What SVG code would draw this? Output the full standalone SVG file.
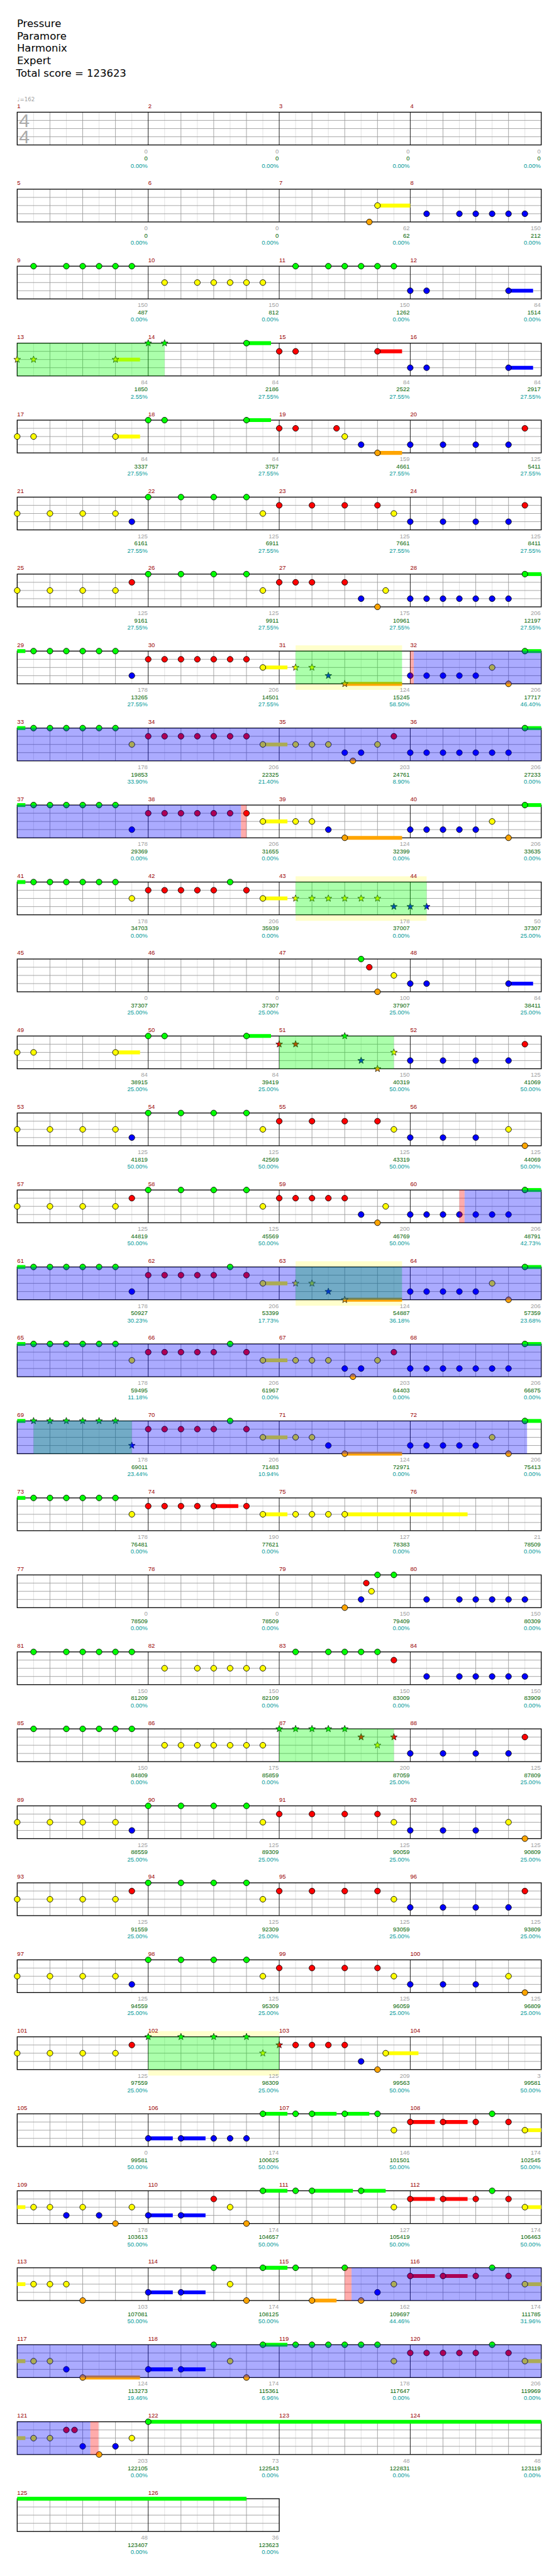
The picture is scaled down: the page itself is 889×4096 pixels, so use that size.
<svg xmlns="http://www.w3.org/2000/svg" xmlns:xlink="http://www.w3.org/1999/xlink" width="889" height="4096" viewBox="0 0 889 4096">
<defs>
<style>
text{font-family:"Liberation Sans",Arial,sans-serif}
.h{font-family:"DejaVu Sans",sans-serif;font-size:19px;fill:#000}
.t{font-family:"DejaVu Sans",sans-serif;font-size:10px;fill:#a0a0a0}
.ts{font-size:35px;fill:#aaa;text-anchor:middle}
.m{font-size:11px;fill:#900}
.a{font-size:11px;fill:#a0a0a0;text-anchor:end}
.b{font-size:11px;fill:#006400;text-anchor:end}
.c{font-size:11px;fill:#099;text-anchor:end}
.zG{stroke:#0f0;stroke-width:7;fill:none}
.zR{stroke:#f00;stroke-width:7;fill:none}
.zY{stroke:#ff0;stroke-width:7;fill:none}
.zB{stroke:#00f;stroke-width:7;fill:none}
.zO{stroke:#ffa500;stroke-width:7;fill:none}
.sp{fill:#0f0;fill-opacity:.33}
.bl{fill:#00f;fill-opacity:.33}
.pk{fill:#f00;fill-opacity:.33}
.py{fill:#ffc}
</style>
<g id="grid">
<rect width="960" height="60" fill="#fff"/>
<path d="M30 0v60M90 0v60M150 0v60M210 0v60M270 0v60M330 0v60M390 0v60M450 0v60M510 0v60M570 0v60M630 0v60M690 0v60M750 0v60M810 0v60M870 0v60M930 0v60" stroke="#ddd"/>
<path d="M60 0v60M120 0v60M180 0v60M300 0v60M360 0v60M420 0v60M540 0v60M600 0v60M660 0v60M780 0v60M840 0v60M900 0v60M0 15H960M0 30H960M0 45H960" stroke="#999"/>
<path d="M240 0v60M480 0v60M720 0v60" stroke="#000"/>
<rect width="960" height="60" fill="none" stroke="#000" stroke-width="1.5"/>
</g>
<g id="grid2">
<rect width="480" height="60" fill="#fff"/>
<path d="M30 0v60M90 0v60M150 0v60M210 0v60M270 0v60M330 0v60M390 0v60M450 0v60" stroke="#ddd"/>
<path d="M60 0v60M120 0v60M180 0v60M300 0v60M360 0v60M420 0v60M0 15H480M0 30H480M0 45H480" stroke="#999"/>
<path d="M240 0v60" stroke="#000"/>
<rect width="480" height="60" fill="none" stroke="#000" stroke-width="1.5"/>
</g>
<circle id="G" r="5.3" fill="#0f0" stroke="#000"/>
<circle id="R" cy="15" r="5.3" fill="#f00" stroke="#000"/>
<circle id="Y" cy="30" r="5.3" fill="#ff0" stroke="#000"/>
<circle id="B" cy="45" r="5.3" fill="#00f" stroke="#000"/>
<circle id="O" cy="60" r="5.3" fill="#ffa500" stroke="#000"/>
<path id="sG" d="M0-6.5L1.6-2.2 6.2-2 2.6.8 3.8 5.3 0 2.7-3.8 5.3-2.6.8-6.2-2-1.6-2.2Z" fill="#0f0" stroke="#000" stroke-width=".8"/>
<path id="sR" transform="translate(0 15)" d="M0-6.5L1.6-2.2 6.2-2 2.6.8 3.8 5.3 0 2.7-3.8 5.3-2.6.8-6.2-2-1.6-2.2Z" fill="#f00" stroke="#000" stroke-width=".8"/>
<path id="sY" transform="translate(0 30)" d="M0-6.5L1.6-2.2 6.2-2 2.6.8 3.8 5.3 0 2.7-3.8 5.3-2.6.8-6.2-2-1.6-2.2Z" fill="#ff0" stroke="#000" stroke-width=".8"/>
<path id="sB" transform="translate(0 45)" d="M0-6.5L1.6-2.2 6.2-2 2.6.8 3.8 5.3 0 2.7-3.8 5.3-2.6.8-6.2-2-1.6-2.2Z" fill="#00f" stroke="#000" stroke-width=".8"/>
<path id="sO" transform="translate(0 60)" d="M0-6.5L1.6-2.2 6.2-2 2.6.8 3.8 5.3 0 2.7-3.8 5.3-2.6.8-6.2-2-1.6-2.2Z" fill="#ffa500" stroke="#000" stroke-width=".8"/>
</defs>
<rect width="889" height="4096" fill="#fff"/>
<g transform="scale(0.86816)">
<g id="header">
<text class="h" x="31" y="49">Pressure</text>
<text class="h" x="31" y="72">Paramore</text>
<text class="h" x="31" y="95">Harmonix</text>
<text class="h" x="31" y="118">Expert</text>
<text class="h" x="29.5" y="141">Total score = 123623</text>
</g>

<g id="r1" transform="translate(31.5 205.5)">
<use href="#grid"/>
<text class="t" x="0" y="-20">♩=162</text>
<text class="ts" x="13" y="27.5">4</text><text class="ts" x="13" y="57.5">4</text>
<text class="m" x="0" y="-7.5">1</text><text class="m" x="240" y="-7.5">2</text><text class="m" x="480" y="-7.5">3</text><text class="m" x="720" y="-7.5">4</text>
<text class="a" x="239" y="75">0</text><text class="a" x="479" y="75">0</text><text class="a" x="719" y="75">0</text><text class="a" x="959" y="75">0</text>
<text class="b" x="239" y="88.5">0</text><text class="b" x="479" y="88.5">0</text><text class="b" x="719" y="88.5">0</text><text class="b" x="959" y="88.5">0</text>
<text class="c" x="239" y="101.5">0.00%</text><text class="c" x="479" y="101.5">0.00%</text><text class="c" x="719" y="101.5">0.00%</text><text class="c" x="959" y="101.5">0.00%</text>
</g>

<g id="r2" transform="translate(31.5 346.5)">
<use href="#grid"/>
<text class="m" x="0" y="-7.5">5</text><text class="m" x="240" y="-7.5">6</text><text class="m" x="480" y="-7.5">7</text><text class="m" x="720" y="-7.5">8</text>
<path class="zY" d="M660 30H720"/>
<use href="#O" x="645"/><use href="#Y" x="660"/><use href="#B" x="750"/><use href="#B" x="810"/><use href="#B" x="840"/><use href="#B" x="870"/><use href="#B" x="900"/><use href="#B" x="930"/>
<text class="a" x="239" y="75">0</text><text class="a" x="479" y="75">0</text><text class="a" x="719" y="75">62</text><text class="a" x="959" y="75">150</text>
<text class="b" x="239" y="88.5">0</text><text class="b" x="479" y="88.5">0</text><text class="b" x="719" y="88.5">62</text><text class="b" x="959" y="88.5">212</text>
<text class="c" x="239" y="101.5">0.00%</text><text class="c" x="479" y="101.5">0.00%</text><text class="c" x="719" y="101.5">0.00%</text><text class="c" x="959" y="101.5">0.00%</text>
</g>

<g id="r3" transform="translate(31.5 487.5)">
<use href="#grid"/>
<text class="m" x="0" y="-7.5">9</text><text class="m" x="240" y="-7.5">10</text><text class="m" x="480" y="-7.5">11</text><text class="m" x="720" y="-7.5">12</text>
<path class="zB" d="M900 45H945"/>
<use href="#G" x="30"/><use href="#G" x="90"/><use href="#G" x="120"/><use href="#G" x="150"/><use href="#G" x="180"/><use href="#G" x="210"/>
<use href="#Y" x="270"/><use href="#Y" x="330"/><use href="#Y" x="360"/><use href="#Y" x="390"/><use href="#Y" x="420"/><use href="#Y" x="450"/>
<use href="#G" x="510"/><use href="#G" x="570"/><use href="#G" x="600"/><use href="#G" x="630"/><use href="#G" x="660"/><use href="#G" x="690"/>
<use href="#B" x="720"/><use href="#B" x="750"/><use href="#B" x="900"/>
<text class="a" x="239" y="75">150</text><text class="a" x="479" y="75">150</text><text class="a" x="719" y="75">150</text><text class="a" x="959" y="75">84</text>
<text class="b" x="239" y="88.5">487</text><text class="b" x="479" y="88.5">812</text><text class="b" x="719" y="88.5">1262</text><text class="b" x="959" y="88.5">1514</text>
<text class="c" x="239" y="101.5">0.00%</text><text class="c" x="479" y="101.5">0.00%</text><text class="c" x="719" y="101.5">0.00%</text><text class="c" x="959" y="101.5">0.00%</text>
</g>

<g id="r4" transform="translate(31.5 628.5)">
<use href="#grid"/>
<text class="m" x="0" y="-7.5">13</text><text class="m" x="240" y="-7.5">14</text><text class="m" x="480" y="-7.5">15</text><text class="m" x="720" y="-7.5">16</text>
<path class="zY" d="M180 30H225"/><path class="zG" d="M420 0H465"/><path class="zR" d="M660 15H705"/><path class="zB" d="M900 45H945"/>
<use href="#sY" x="0"/><use href="#sY" x="30"/><use href="#sY" x="180"/><use href="#sG" x="240"/><use href="#sG" x="270"/>
<use href="#G" x="420"/><use href="#R" x="480"/><use href="#R" x="510"/><use href="#R" x="660"/><use href="#B" x="720"/><use href="#B" x="750"/><use href="#B" x="900"/>
<rect class="sp" x="0" width="270" height="60"/>
<text class="a" x="239" y="75">84</text><text class="a" x="479" y="75">84</text><text class="a" x="719" y="75">84</text><text class="a" x="959" y="75">84</text>
<text class="b" x="239" y="88.5">1850</text><text class="b" x="479" y="88.5">2186</text><text class="b" x="719" y="88.5">2522</text><text class="b" x="959" y="88.5">2917</text>
<text class="c" x="239" y="101.5">2.55%</text><text class="c" x="479" y="101.5">27.55%</text><text class="c" x="719" y="101.5">27.55%</text><text class="c" x="959" y="101.5">27.55%</text>
</g>

<g id="r5" transform="translate(31.5 769.5)">
<use href="#grid"/>
<text class="m" x="0" y="-7.5">17</text><text class="m" x="240" y="-7.5">18</text><text class="m" x="480" y="-7.5">19</text><text class="m" x="720" y="-7.5">20</text>
<path class="zY" d="M180 30H225"/><path class="zG" d="M420 0H465"/><path class="zO" d="M660 60H705"/>
<use href="#Y" x="0"/><use href="#Y" x="30"/><use href="#Y" x="180"/><use href="#G" x="240"/><use href="#G" x="270"/><use href="#G" x="420"/>
<use href="#R" x="480"/><use href="#R" x="510"/><use href="#R" x="585"/><use href="#Y" x="600"/><use href="#B" x="630"/><use href="#O" x="660"/>
<use href="#B" x="720"/><use href="#B" x="780"/><use href="#B" x="840"/><use href="#B" x="900"/><use href="#R" x="930"/>
<text class="a" x="239" y="75">84</text><text class="a" x="479" y="75">84</text><text class="a" x="719" y="75">159</text><text class="a" x="959" y="75">125</text>
<text class="b" x="239" y="88.5">3337</text><text class="b" x="479" y="88.5">3757</text><text class="b" x="719" y="88.5">4661</text><text class="b" x="959" y="88.5">5411</text>
<text class="c" x="239" y="101.5">27.55%</text><text class="c" x="479" y="101.5">27.55%</text><text class="c" x="719" y="101.5">27.55%</text><text class="c" x="959" y="101.5">27.55%</text>
</g>

<g id="r6" transform="translate(31.5 910.5)">
<use href="#grid"/>
<text class="m" x="0" y="-7.5">21</text><text class="m" x="240" y="-7.5">22</text><text class="m" x="480" y="-7.5">23</text><text class="m" x="720" y="-7.5">24</text>
<use href="#Y" x="0"/><use href="#Y" x="60"/><use href="#Y" x="120"/><use href="#Y" x="180"/><use href="#B" x="210"/>
<use href="#G" x="240"/><use href="#G" x="300"/><use href="#G" x="360"/><use href="#G" x="420"/><use href="#Y" x="450"/>
<use href="#R" x="480"/><use href="#R" x="540"/><use href="#R" x="600"/><use href="#R" x="660"/><use href="#Y" x="690"/>
<use href="#B" x="720"/><use href="#B" x="780"/><use href="#B" x="840"/><use href="#B" x="900"/><use href="#R" x="930"/>
<text class="a" x="239" y="75">125</text><text class="a" x="479" y="75">125</text><text class="a" x="719" y="75">125</text><text class="a" x="959" y="75">125</text>
<text class="b" x="239" y="88.5">6161</text><text class="b" x="479" y="88.5">6911</text><text class="b" x="719" y="88.5">7661</text><text class="b" x="959" y="88.5">8411</text>
<text class="c" x="239" y="101.5">27.55%</text><text class="c" x="479" y="101.5">27.55%</text><text class="c" x="719" y="101.5">27.55%</text><text class="c" x="959" y="101.5">27.55%</text>
</g>

<g id="r7" transform="translate(31.5 1051.5)">
<use href="#grid"/>
<text class="m" x="0" y="-7.5">25</text><text class="m" x="240" y="-7.5">26</text><text class="m" x="480" y="-7.5">27</text><text class="m" x="720" y="-7.5">28</text>
<path class="zG" d="M930 0H960"/>
<use href="#Y" x="0"/><use href="#Y" x="60"/><use href="#Y" x="120"/><use href="#Y" x="180"/><use href="#R" x="210"/>
<use href="#G" x="240"/><use href="#G" x="300"/><use href="#G" x="360"/><use href="#G" x="420"/><use href="#Y" x="450"/>
<use href="#R" x="480"/><use href="#R" x="510"/><use href="#R" x="540"/><use href="#R" x="600"/><use href="#B" x="630"/><use href="#O" x="660"/><use href="#Y" x="675"/>
<use href="#B" x="720"/><use href="#B" x="750"/><use href="#B" x="780"/><use href="#B" x="810"/><use href="#B" x="840"/><use href="#B" x="870"/><use href="#B" x="900"/><use href="#G" x="930"/>
<text class="a" x="239" y="75">125</text><text class="a" x="479" y="75">125</text><text class="a" x="719" y="75">175</text><text class="a" x="959" y="75">206</text>
<text class="b" x="239" y="88.5">9161</text><text class="b" x="479" y="88.5">9911</text><text class="b" x="719" y="88.5">10961</text><text class="b" x="959" y="88.5">12197</text>
<text class="c" x="239" y="101.5">27.55%</text><text class="c" x="479" y="101.5">27.55%</text><text class="c" x="719" y="101.5">27.55%</text><text class="c" x="959" y="101.5">27.55%</text>
</g>

<g id="r8" transform="translate(31.5 1192.5)">
<rect class="py" x="510" y="-10.5" width="195" height="81.5"/>
<use href="#grid"/>
<text class="m" x="0" y="-7.5">29</text><text class="m" x="240" y="-7.5">30</text><text class="m" x="480" y="-7.5">31</text><text class="m" x="720" y="-7.5">32</text>
<path class="zG" d="M0 0H15"/><path class="zY" d="M450 30H495"/><path class="zO" d="M600 60H705"/><path class="zG" d="M930 0H960"/>
<use href="#G" x="30"/><use href="#G" x="60"/><use href="#G" x="90"/><use href="#G" x="120"/><use href="#G" x="150"/><use href="#G" x="180"/><use href="#B" x="210"/>
<use href="#R" x="240"/><use href="#R" x="270"/><use href="#R" x="300"/><use href="#R" x="330"/><use href="#R" x="360"/><use href="#R" x="390"/><use href="#R" x="420"/><use href="#Y" x="450"/>
<use href="#sY" x="510"/><use href="#sY" x="540"/><use href="#sB" x="570"/><use href="#sO" x="600"/>
<use href="#B" x="720"/><use href="#B" x="750"/><use href="#B" x="780"/><use href="#B" x="810"/><use href="#B" x="840"/><use href="#Y" x="870"/><use href="#O" x="900"/><use href="#G" x="930"/>
<rect class="sp" x="510" width="195" height="60"/><rect class="pk" x="720" width="6.5" height="60"/><rect class="bl" x="726.5" width="233.5" height="60"/>
<text class="a" x="239" y="75">178</text><text class="a" x="479" y="75">206</text><text class="a" x="719" y="75">124</text><text class="a" x="959" y="75">206</text>
<text class="b" x="239" y="88.5">13265</text><text class="b" x="479" y="88.5">14501</text><text class="b" x="719" y="88.5">15245</text><text class="b" x="959" y="88.5">17717</text>
<text class="c" x="239" y="101.5">27.55%</text><text class="c" x="479" y="101.5">27.55%</text><text class="c" x="719" y="101.5">58.50%</text><text class="c" x="959" y="101.5">46.40%</text>
</g>

<g id="r9" transform="translate(31.5 1333.5)">
<use href="#grid"/>
<text class="m" x="0" y="-7.5">33</text><text class="m" x="240" y="-7.5">34</text><text class="m" x="480" y="-7.5">35</text><text class="m" x="720" y="-7.5">36</text>
<path class="zG" d="M0 0H15"/><path class="zY" d="M450 30H495"/><path class="zG" d="M930 0H960"/>
<use href="#G" x="30"/><use href="#G" x="60"/><use href="#G" x="90"/><use href="#G" x="120"/><use href="#G" x="150"/><use href="#G" x="180"/><use href="#Y" x="210"/>
<use href="#R" x="240"/><use href="#R" x="270"/><use href="#R" x="300"/><use href="#R" x="330"/><use href="#R" x="360"/><use href="#R" x="390"/><use href="#R" x="420"/><use href="#Y" x="450"/>
<use href="#Y" x="510"/><use href="#Y" x="540"/><use href="#Y" x="570"/><use href="#B" x="600"/><use href="#O" x="615"/><use href="#B" x="630"/><use href="#Y" x="660"/><use href="#R" x="690"/>
<use href="#B" x="720"/><use href="#B" x="750"/><use href="#B" x="780"/><use href="#B" x="810"/><use href="#B" x="840"/><use href="#B" x="870"/><use href="#B" x="900"/><use href="#G" x="930"/>
<rect class="bl" width="960" height="60"/>
<text class="a" x="239" y="75">178</text><text class="a" x="479" y="75">206</text><text class="a" x="719" y="75">203</text><text class="a" x="959" y="75">206</text>
<text class="b" x="239" y="88.5">19853</text><text class="b" x="479" y="88.5">22325</text><text class="b" x="719" y="88.5">24761</text><text class="b" x="959" y="88.5">27233</text>
<text class="c" x="239" y="101.5">33.90%</text><text class="c" x="479" y="101.5">21.40%</text><text class="c" x="719" y="101.5">8.90%</text><text class="c" x="959" y="101.5">0.00%</text>
</g>

<g id="r10" transform="translate(31.5 1474.5)">
<use href="#grid"/>
<text class="m" x="0" y="-7.5">37</text><text class="m" x="240" y="-7.5">38</text><text class="m" x="480" y="-7.5">39</text><text class="m" x="720" y="-7.5">40</text>
<path class="zG" d="M0 0H15"/><path class="zY" d="M450 30H495"/><path class="zO" d="M600 60H705"/><path class="zG" d="M930 0H960"/>
<use href="#G" x="30"/><use href="#G" x="60"/><use href="#G" x="90"/><use href="#G" x="120"/><use href="#G" x="150"/><use href="#G" x="180"/><use href="#B" x="210"/>
<use href="#R" x="240"/><use href="#R" x="270"/><use href="#R" x="300"/><use href="#R" x="330"/><use href="#R" x="360"/><use href="#R" x="390"/><use href="#R" x="420"/><use href="#Y" x="450"/>
<use href="#Y" x="510"/><use href="#Y" x="540"/><use href="#B" x="570"/><use href="#O" x="600"/>
<use href="#B" x="720"/><use href="#B" x="750"/><use href="#B" x="780"/><use href="#B" x="810"/><use href="#B" x="840"/><use href="#Y" x="870"/><use href="#O" x="900"/><use href="#G" x="930"/>
<rect class="bl" width="410" height="60"/><rect class="pk" x="410" width="10" height="60"/>
<text class="a" x="239" y="75">178</text><text class="a" x="479" y="75">206</text><text class="a" x="719" y="75">124</text><text class="a" x="959" y="75">206</text>
<text class="b" x="239" y="88.5">29369</text><text class="b" x="479" y="88.5">31655</text><text class="b" x="719" y="88.5">32399</text><text class="b" x="959" y="88.5">33635</text>
<text class="c" x="239" y="101.5">0.00%</text><text class="c" x="479" y="101.5">0.00%</text><text class="c" x="719" y="101.5">0.00%</text><text class="c" x="959" y="101.5">0.00%</text>
</g>

<g id="r11" transform="translate(31.5 1615.5)">
<rect class="py" x="510" y="-10.5" width="240" height="81.5"/>
<use href="#grid"/>
<text class="m" x="0" y="-7.5">41</text><text class="m" x="240" y="-7.5">42</text><text class="m" x="480" y="-7.5">43</text><text class="m" x="720" y="-7.5">44</text>
<path class="zG" d="M0 0H15"/><path class="zY" d="M450 30H495"/>
<use href="#G" x="30"/><use href="#G" x="60"/><use href="#G" x="90"/><use href="#G" x="120"/><use href="#G" x="150"/><use href="#G" x="180"/><use href="#Y" x="210"/>
<use href="#R" x="240"/><use href="#R" x="270"/><use href="#R" x="300"/><use href="#R" x="330"/><use href="#R" x="360"/><use href="#G" x="390"/><use href="#R" x="420"/><use href="#Y" x="450"/>
<use href="#sY" x="510"/><use href="#sY" x="540"/><use href="#sY" x="570"/><use href="#sY" x="600"/><use href="#sY" x="630"/><use href="#sY" x="660"/><use href="#sB" x="690"/><use href="#sB" x="720"/><use href="#sB" x="750"/>
<rect class="sp" x="510" width="240" height="60"/>
<text class="a" x="239" y="75">178</text><text class="a" x="479" y="75">206</text><text class="a" x="719" y="75">178</text><text class="a" x="959" y="75">50</text>
<text class="b" x="239" y="88.5">34703</text><text class="b" x="479" y="88.5">35939</text><text class="b" x="719" y="88.5">37007</text><text class="b" x="959" y="88.5">37307</text>
<text class="c" x="239" y="101.5">0.00%</text><text class="c" x="479" y="101.5">0.00%</text><text class="c" x="719" y="101.5">0.00%</text><text class="c" x="959" y="101.5">25.00%</text>
</g>

<g id="r12" transform="translate(31.5 1756.5)">
<use href="#grid"/>
<text class="m" x="0" y="-7.5">45</text><text class="m" x="240" y="-7.5">46</text><text class="m" x="480" y="-7.5">47</text><text class="m" x="720" y="-7.5">48</text>
<path class="zB" d="M900 45H945"/>
<use href="#G" x="630"/><use href="#R" x="645"/><use href="#O" x="660"/><use href="#Y" x="690"/><use href="#B" x="720"/><use href="#B" x="750"/><use href="#B" x="900"/>
<text class="a" x="239" y="75">0</text><text class="a" x="479" y="75">0</text><text class="a" x="719" y="75">100</text><text class="a" x="959" y="75">84</text>
<text class="b" x="239" y="88.5">37307</text><text class="b" x="479" y="88.5">37307</text><text class="b" x="719" y="88.5">37907</text><text class="b" x="959" y="88.5">38411</text>
<text class="c" x="239" y="101.5">25.00%</text><text class="c" x="479" y="101.5">25.00%</text><text class="c" x="719" y="101.5">25.00%</text><text class="c" x="959" y="101.5">25.00%</text>
</g>

<g id="r13" transform="translate(31.5 1897.5)">
<use href="#grid"/>
<text class="m" x="0" y="-7.5">49</text><text class="m" x="240" y="-7.5">50</text><text class="m" x="480" y="-7.5">51</text><text class="m" x="720" y="-7.5">52</text>
<path class="zY" d="M180 30H225"/><path class="zG" d="M420 0H465"/>
<use href="#Y" x="0"/><use href="#Y" x="30"/><use href="#Y" x="180"/><use href="#G" x="240"/><use href="#G" x="270"/><use href="#G" x="420"/>
<use href="#sR" x="480"/><use href="#sR" x="510"/><use href="#sG" x="600"/><use href="#sB" x="630"/><use href="#sO" x="660"/><use href="#sY" x="690"/>
<use href="#B" x="720"/><use href="#B" x="780"/><use href="#B" x="840"/><use href="#B" x="900"/><use href="#R" x="930"/>
<rect class="sp" x="480" width="210" height="60"/>
<text class="a" x="239" y="75">84</text><text class="a" x="479" y="75">84</text><text class="a" x="719" y="75">150</text><text class="a" x="959" y="75">125</text>
<text class="b" x="239" y="88.5">38915</text><text class="b" x="479" y="88.5">39419</text><text class="b" x="719" y="88.5">40319</text><text class="b" x="959" y="88.5">41069</text>
<text class="c" x="239" y="101.5">25.00%</text><text class="c" x="479" y="101.5">25.00%</text><text class="c" x="719" y="101.5">50.00%</text><text class="c" x="959" y="101.5">50.00%</text>
</g>

<g id="r14" transform="translate(31.5 2038.5)">
<use href="#grid"/>
<text class="m" x="0" y="-7.5">53</text><text class="m" x="240" y="-7.5">54</text><text class="m" x="480" y="-7.5">55</text><text class="m" x="720" y="-7.5">56</text>
<use href="#Y" x="0"/><use href="#Y" x="60"/><use href="#Y" x="120"/><use href="#Y" x="180"/><use href="#B" x="210"/>
<use href="#G" x="240"/><use href="#G" x="300"/><use href="#G" x="360"/><use href="#G" x="420"/><use href="#Y" x="450"/>
<use href="#R" x="480"/><use href="#R" x="540"/><use href="#R" x="600"/><use href="#R" x="660"/><use href="#Y" x="690"/>
<use href="#B" x="720"/><use href="#B" x="780"/><use href="#B" x="840"/><use href="#Y" x="900"/><use href="#O" x="930"/>
<text class="a" x="239" y="75">125</text><text class="a" x="479" y="75">125</text><text class="a" x="719" y="75">125</text><text class="a" x="959" y="75">125</text>
<text class="b" x="239" y="88.5">41819</text><text class="b" x="479" y="88.5">42569</text><text class="b" x="719" y="88.5">43319</text><text class="b" x="959" y="88.5">44069</text>
<text class="c" x="239" y="101.5">50.00%</text><text class="c" x="479" y="101.5">50.00%</text><text class="c" x="719" y="101.5">50.00%</text><text class="c" x="959" y="101.5">50.00%</text>
</g>

<g id="r15" transform="translate(31.5 2179.5)">
<use href="#grid"/>
<text class="m" x="0" y="-7.5">57</text><text class="m" x="240" y="-7.5">58</text><text class="m" x="480" y="-7.5">59</text><text class="m" x="720" y="-7.5">60</text>
<path class="zG" d="M930 0H960"/>
<use href="#Y" x="0"/><use href="#Y" x="60"/><use href="#Y" x="120"/><use href="#Y" x="180"/><use href="#R" x="210"/>
<use href="#G" x="240"/><use href="#G" x="300"/><use href="#G" x="360"/><use href="#G" x="420"/><use href="#Y" x="450"/>
<use href="#R" x="480"/><use href="#R" x="510"/><use href="#R" x="540"/><use href="#R" x="570"/><use href="#R" x="600"/><use href="#B" x="630"/><use href="#O" x="660"/><use href="#Y" x="675"/>
<use href="#B" x="720"/><use href="#B" x="750"/><use href="#B" x="780"/><use href="#B" x="810"/><use href="#B" x="840"/><use href="#B" x="870"/><use href="#B" x="900"/><use href="#G" x="930"/>
<rect class="pk" x="810" width="9.5" height="60"/><rect class="bl" x="819.5" width="140.5" height="60"/>
<text class="a" x="239" y="75">125</text><text class="a" x="479" y="75">125</text><text class="a" x="719" y="75">200</text><text class="a" x="959" y="75">206</text>
<text class="b" x="239" y="88.5">44819</text><text class="b" x="479" y="88.5">45569</text><text class="b" x="719" y="88.5">46769</text><text class="b" x="959" y="88.5">48791</text>
<text class="c" x="239" y="101.5">50.00%</text><text class="c" x="479" y="101.5">50.00%</text><text class="c" x="719" y="101.5">50.00%</text><text class="c" x="959" y="101.5">42.73%</text>
</g>

<g id="r16" transform="translate(31.5 2320.5)">
<rect class="py" x="510" y="-10.5" width="195" height="81.5"/>
<use href="#grid"/>
<text class="m" x="0" y="-7.5">61</text><text class="m" x="240" y="-7.5">62</text><text class="m" x="480" y="-7.5">63</text><text class="m" x="720" y="-7.5">64</text>
<path class="zG" d="M0 0H15"/><path class="zY" d="M450 30H495"/><path class="zO" d="M600 60H705"/><path class="zG" d="M930 0H960"/>
<use href="#G" x="30"/><use href="#G" x="60"/><use href="#G" x="90"/><use href="#G" x="120"/><use href="#G" x="150"/><use href="#G" x="180"/><use href="#B" x="210"/>
<use href="#R" x="240"/><use href="#R" x="270"/><use href="#R" x="300"/><use href="#R" x="330"/><use href="#R" x="360"/><use href="#G" x="390"/><use href="#R" x="420"/><use href="#Y" x="450"/>
<use href="#sY" x="510"/><use href="#sY" x="540"/><use href="#sB" x="570"/><use href="#sO" x="600"/>
<use href="#B" x="720"/><use href="#B" x="750"/><use href="#B" x="780"/><use href="#B" x="810"/><use href="#B" x="840"/><use href="#Y" x="870"/><use href="#O" x="900"/><use href="#G" x="930"/>
<rect class="sp" x="510" width="195" height="60"/><rect class="bl" width="960" height="60"/>
<text class="a" x="239" y="75">178</text><text class="a" x="479" y="75">206</text><text class="a" x="719" y="75">124</text><text class="a" x="959" y="75">206</text>
<text class="b" x="239" y="88.5">50927</text><text class="b" x="479" y="88.5">53399</text><text class="b" x="719" y="88.5">54887</text><text class="b" x="959" y="88.5">57359</text>
<text class="c" x="239" y="101.5">30.23%</text><text class="c" x="479" y="101.5">17.73%</text><text class="c" x="719" y="101.5">36.18%</text><text class="c" x="959" y="101.5">23.68%</text>
</g>

<g id="r17" transform="translate(31.5 2461.5)">
<use href="#grid"/>
<text class="m" x="0" y="-7.5">65</text><text class="m" x="240" y="-7.5">66</text><text class="m" x="480" y="-7.5">67</text><text class="m" x="720" y="-7.5">68</text>
<path class="zG" d="M0 0H15"/><path class="zY" d="M450 30H495"/><path class="zG" d="M930 0H960"/>
<use href="#G" x="30"/><use href="#G" x="60"/><use href="#G" x="90"/><use href="#G" x="120"/><use href="#G" x="150"/><use href="#G" x="180"/><use href="#Y" x="210"/>
<use href="#R" x="240"/><use href="#R" x="270"/><use href="#R" x="300"/><use href="#R" x="330"/><use href="#R" x="360"/><use href="#G" x="390"/><use href="#R" x="420"/><use href="#Y" x="450"/>
<use href="#Y" x="510"/><use href="#Y" x="540"/><use href="#Y" x="570"/><use href="#B" x="600"/><use href="#O" x="615"/><use href="#B" x="630"/><use href="#Y" x="660"/><use href="#R" x="690"/>
<use href="#B" x="720"/><use href="#B" x="750"/><use href="#B" x="780"/><use href="#B" x="810"/><use href="#B" x="840"/><use href="#B" x="870"/><use href="#B" x="900"/><use href="#G" x="930"/>
<rect class="bl" width="960" height="60"/>
<text class="a" x="239" y="75">178</text><text class="a" x="479" y="75">206</text><text class="a" x="719" y="75">203</text><text class="a" x="959" y="75">206</text>
<text class="b" x="239" y="88.5">59495</text><text class="b" x="479" y="88.5">61967</text><text class="b" x="719" y="88.5">64403</text><text class="b" x="959" y="88.5">66875</text>
<text class="c" x="239" y="101.5">11.18%</text><text class="c" x="479" y="101.5">0.00%</text><text class="c" x="719" y="101.5">0.00%</text><text class="c" x="959" y="101.5">0.00%</text>
</g>

<g id="r18" transform="translate(31.5 2602.5)">
<use href="#grid"/>
<text class="m" x="0" y="-7.5">69</text><text class="m" x="240" y="-7.5">70</text><text class="m" x="480" y="-7.5">71</text><text class="m" x="720" y="-7.5">72</text>
<path class="zG" d="M0 0H15"/><path class="zY" d="M450 30H495"/><path class="zO" d="M600 60H705"/><path class="zG" d="M930 0H960"/>
<use href="#sG" x="30"/><use href="#sG" x="60"/><use href="#sG" x="90"/><use href="#sG" x="120"/><use href="#sG" x="150"/><use href="#sG" x="180"/><use href="#sB" x="210"/>
<use href="#R" x="240"/><use href="#R" x="270"/><use href="#R" x="300"/><use href="#R" x="330"/><use href="#R" x="360"/><use href="#G" x="390"/><use href="#R" x="420"/><use href="#Y" x="450"/>
<use href="#Y" x="510"/><use href="#Y" x="540"/><use href="#B" x="570"/><use href="#O" x="600"/>
<use href="#B" x="720"/><use href="#B" x="750"/><use href="#B" x="780"/><use href="#B" x="810"/><use href="#B" x="840"/><use href="#Y" x="870"/><use href="#O" x="900"/><use href="#G" x="930"/>
<rect class="sp" x="30" width="180" height="60"/><rect class="bl" width="934" height="60"/>
<text class="a" x="239" y="75">178</text><text class="a" x="479" y="75">206</text><text class="a" x="719" y="75">124</text><text class="a" x="959" y="75">206</text>
<text class="b" x="239" y="88.5">69011</text><text class="b" x="479" y="88.5">71483</text><text class="b" x="719" y="88.5">72971</text><text class="b" x="959" y="88.5">75413</text>
<text class="c" x="239" y="101.5">23.44%</text><text class="c" x="479" y="101.5">10.94%</text><text class="c" x="719" y="101.5">0.00%</text><text class="c" x="959" y="101.5">0.00%</text>
</g>

<g id="r19" transform="translate(31.5 2743.5)">
<use href="#grid"/>
<text class="m" x="0" y="-7.5">73</text><text class="m" x="240" y="-7.5">74</text><text class="m" x="480" y="-7.5">75</text><text class="m" x="720" y="-7.5">76</text>
<path class="zG" d="M0 0H15"/><path class="zR" d="M360 15H405"/><path class="zY" d="M450 30H495"/><path class="zY" d="M600 30H825"/>
<use href="#G" x="30"/><use href="#G" x="60"/><use href="#G" x="90"/><use href="#G" x="120"/><use href="#G" x="150"/><use href="#G" x="180"/><use href="#Y" x="210"/>
<use href="#R" x="240"/><use href="#R" x="270"/><use href="#R" x="300"/><use href="#R" x="330"/><use href="#R" x="360"/><use href="#R" x="420"/><use href="#Y" x="450"/>
<use href="#Y" x="510"/><use href="#Y" x="540"/><use href="#Y" x="570"/><use href="#Y" x="600"/>
<text class="a" x="239" y="75">178</text><text class="a" x="479" y="75">190</text><text class="a" x="719" y="75">127</text><text class="a" x="959" y="75">21</text>
<text class="b" x="239" y="88.5">76481</text><text class="b" x="479" y="88.5">77621</text><text class="b" x="719" y="88.5">78383</text><text class="b" x="959" y="88.5">78509</text>
<text class="c" x="239" y="101.5">0.00%</text><text class="c" x="479" y="101.5">0.00%</text><text class="c" x="719" y="101.5">0.00%</text><text class="c" x="959" y="101.5">0.00%</text>
</g>

<g id="r20" transform="translate(31.5 2884.5)">
<use href="#grid"/>
<text class="m" x="0" y="-7.5">77</text><text class="m" x="240" y="-7.5">78</text><text class="m" x="480" y="-7.5">79</text><text class="m" x="720" y="-7.5">80</text>
<use href="#O" x="600"/><use href="#B" x="630"/><use href="#R" x="639.5"/><use href="#Y" x="649"/><use href="#G" x="660"/><use href="#G" x="690"/>
<use href="#B" x="750"/><use href="#B" x="810"/><use href="#B" x="840"/><use href="#B" x="870"/><use href="#B" x="900"/><use href="#B" x="930"/>
<text class="a" x="239" y="75">0</text><text class="a" x="479" y="75">0</text><text class="a" x="719" y="75">150</text><text class="a" x="959" y="75">150</text>
<text class="b" x="239" y="88.5">78509</text><text class="b" x="479" y="88.5">78509</text><text class="b" x="719" y="88.5">79409</text><text class="b" x="959" y="88.5">80309</text>
<text class="c" x="239" y="101.5">0.00%</text><text class="c" x="479" y="101.5">0.00%</text><text class="c" x="719" y="101.5">0.00%</text><text class="c" x="959" y="101.5">0.00%</text>
</g>

<g id="r21" transform="translate(31.5 3025.5)">
<use href="#grid"/>
<text class="m" x="0" y="-7.5">81</text><text class="m" x="240" y="-7.5">82</text><text class="m" x="480" y="-7.5">83</text><text class="m" x="720" y="-7.5">84</text>
<use href="#G" x="30"/><use href="#G" x="90"/><use href="#G" x="120"/><use href="#G" x="150"/><use href="#G" x="180"/><use href="#G" x="210"/>
<use href="#Y" x="270"/><use href="#Y" x="330"/><use href="#Y" x="360"/><use href="#Y" x="390"/><use href="#Y" x="420"/><use href="#Y" x="450"/>
<use href="#G" x="510"/><use href="#G" x="570"/><use href="#G" x="600"/><use href="#G" x="630"/><use href="#G" x="660"/><use href="#R" x="690"/>
<use href="#B" x="750"/><use href="#B" x="810"/><use href="#B" x="840"/><use href="#B" x="870"/><use href="#B" x="900"/><use href="#B" x="930"/>
<text class="a" x="239" y="75">150</text><text class="a" x="479" y="75">150</text><text class="a" x="719" y="75">150</text><text class="a" x="959" y="75">150</text>
<text class="b" x="239" y="88.5">81209</text><text class="b" x="479" y="88.5">82109</text><text class="b" x="719" y="88.5">83009</text><text class="b" x="959" y="88.5">83909</text>
<text class="c" x="239" y="101.5">0.00%</text><text class="c" x="479" y="101.5">0.00%</text><text class="c" x="719" y="101.5">0.00%</text><text class="c" x="959" y="101.5">0.00%</text>
</g>

<g id="r22" transform="translate(31.5 3166.5)">
<use href="#grid"/>
<text class="m" x="0" y="-7.5">85</text><text class="m" x="240" y="-7.5">86</text><text class="m" x="480" y="-7.5">87</text><text class="m" x="720" y="-7.5">88</text>
<use href="#G" x="30"/><use href="#G" x="90"/><use href="#G" x="120"/><use href="#G" x="150"/><use href="#G" x="180"/><use href="#G" x="210"/>
<use href="#Y" x="270"/><use href="#Y" x="300"/><use href="#Y" x="330"/><use href="#Y" x="360"/><use href="#Y" x="390"/><use href="#Y" x="420"/><use href="#Y" x="450"/>
<use href="#sG" x="480"/><use href="#sG" x="510"/><use href="#sG" x="540"/><use href="#sG" x="570"/><use href="#sG" x="600"/><use href="#sR" x="630"/><use href="#sY" x="660"/><use href="#sR" x="690"/>
<use href="#B" x="720"/><use href="#B" x="780"/><use href="#B" x="840"/><use href="#B" x="900"/><use href="#R" x="930"/>
<rect class="sp" x="480" width="210" height="60"/>
<text class="a" x="239" y="75">150</text><text class="a" x="479" y="75">175</text><text class="a" x="719" y="75">200</text><text class="a" x="959" y="75">125</text>
<text class="b" x="239" y="88.5">84809</text><text class="b" x="479" y="88.5">85859</text><text class="b" x="719" y="88.5">87059</text><text class="b" x="959" y="88.5">87809</text>
<text class="c" x="239" y="101.5">0.00%</text><text class="c" x="479" y="101.5">0.00%</text><text class="c" x="719" y="101.5">25.00%</text><text class="c" x="959" y="101.5">25.00%</text>
</g>

<g id="r23" transform="translate(31.5 3307.5)">
<use href="#grid"/>
<text class="m" x="0" y="-7.5">89</text><text class="m" x="240" y="-7.5">90</text><text class="m" x="480" y="-7.5">91</text><text class="m" x="720" y="-7.5">92</text>
<use href="#Y" x="0"/><use href="#Y" x="60"/><use href="#Y" x="120"/><use href="#Y" x="180"/><use href="#B" x="210"/>
<use href="#G" x="240"/><use href="#G" x="300"/><use href="#G" x="360"/><use href="#G" x="420"/><use href="#Y" x="450"/>
<use href="#R" x="480"/><use href="#R" x="540"/><use href="#R" x="600"/><use href="#R" x="660"/><use href="#Y" x="690"/>
<use href="#B" x="720"/><use href="#B" x="780"/><use href="#B" x="840"/><use href="#Y" x="900"/><use href="#O" x="930"/>
<text class="a" x="239" y="75">125</text><text class="a" x="479" y="75">125</text><text class="a" x="719" y="75">125</text><text class="a" x="959" y="75">125</text>
<text class="b" x="239" y="88.5">88559</text><text class="b" x="479" y="88.5">89309</text><text class="b" x="719" y="88.5">90059</text><text class="b" x="959" y="88.5">90809</text>
<text class="c" x="239" y="101.5">25.00%</text><text class="c" x="479" y="101.5">25.00%</text><text class="c" x="719" y="101.5">25.00%</text><text class="c" x="959" y="101.5">25.00%</text>
</g>

<g id="r24" transform="translate(31.5 3448.5)">
<use href="#grid"/>
<text class="m" x="0" y="-7.5">93</text><text class="m" x="240" y="-7.5">94</text><text class="m" x="480" y="-7.5">95</text><text class="m" x="720" y="-7.5">96</text>
<use href="#Y" x="0"/><use href="#Y" x="60"/><use href="#Y" x="120"/><use href="#Y" x="180"/><use href="#R" x="210"/>
<use href="#G" x="240"/><use href="#G" x="300"/><use href="#G" x="360"/><use href="#G" x="420"/><use href="#Y" x="450"/>
<use href="#R" x="480"/><use href="#R" x="540"/><use href="#R" x="600"/><use href="#R" x="660"/><use href="#Y" x="690"/>
<use href="#B" x="720"/><use href="#B" x="780"/><use href="#B" x="840"/><use href="#B" x="900"/><use href="#R" x="930"/>
<text class="a" x="239" y="75">125</text><text class="a" x="479" y="75">125</text><text class="a" x="719" y="75">125</text><text class="a" x="959" y="75">125</text>
<text class="b" x="239" y="88.5">91559</text><text class="b" x="479" y="88.5">92309</text><text class="b" x="719" y="88.5">93059</text><text class="b" x="959" y="88.5">93809</text>
<text class="c" x="239" y="101.5">25.00%</text><text class="c" x="479" y="101.5">25.00%</text><text class="c" x="719" y="101.5">25.00%</text><text class="c" x="959" y="101.5">25.00%</text>
</g>

<g id="r25" transform="translate(31.5 3589.5)">
<use href="#grid"/>
<text class="m" x="0" y="-7.5">97</text><text class="m" x="240" y="-7.5">98</text><text class="m" x="480" y="-7.5">99</text><text class="m" x="720" y="-7.5">100</text>
<use href="#Y" x="0"/><use href="#Y" x="60"/><use href="#Y" x="120"/><use href="#Y" x="180"/><use href="#B" x="210"/>
<use href="#G" x="240"/><use href="#G" x="300"/><use href="#G" x="360"/><use href="#G" x="420"/><use href="#Y" x="450"/>
<use href="#R" x="480"/><use href="#R" x="540"/><use href="#R" x="600"/><use href="#R" x="660"/><use href="#Y" x="690"/>
<use href="#B" x="720"/><use href="#B" x="780"/><use href="#B" x="840"/><use href="#Y" x="900"/><use href="#O" x="930"/>
<text class="a" x="239" y="75">125</text><text class="a" x="479" y="75">125</text><text class="a" x="719" y="75">125</text><text class="a" x="959" y="75">125</text>
<text class="b" x="239" y="88.5">94559</text><text class="b" x="479" y="88.5">95309</text><text class="b" x="719" y="88.5">96059</text><text class="b" x="959" y="88.5">96809</text>
<text class="c" x="239" y="101.5">25.00%</text><text class="c" x="479" y="101.5">25.00%</text><text class="c" x="719" y="101.5">25.00%</text><text class="c" x="959" y="101.5">25.00%</text>
</g>

<g id="r26" transform="translate(31.5 3730.5)">
<rect class="py" x="240" y="-10.5" width="240" height="81.5"/>
<use href="#grid"/>
<text class="m" x="0" y="-7.5">101</text><text class="m" x="240" y="-7.5">102</text><text class="m" x="480" y="-7.5">103</text><text class="m" x="720" y="-7.5">104</text>
<path class="zY" d="M675 30H735"/>
<use href="#Y" x="0"/><use href="#Y" x="60"/><use href="#Y" x="120"/><use href="#Y" x="180"/><use href="#R" x="210"/>
<use href="#sG" x="240"/><use href="#sG" x="300"/><use href="#sG" x="360"/><use href="#sG" x="420"/><use href="#sY" x="450"/><use href="#sR" x="480"/>
<use href="#R" x="510"/><use href="#R" x="540"/><use href="#R" x="570"/><use href="#R" x="600"/><use href="#B" x="630"/><use href="#O" x="660"/><use href="#Y" x="675"/>
<rect class="sp" x="240" width="240" height="60"/>
<text class="a" x="239" y="75">125</text><text class="a" x="479" y="75">125</text><text class="a" x="719" y="75">209</text><text class="a" x="959" y="75">3</text>
<text class="b" x="239" y="88.5">97559</text><text class="b" x="479" y="88.5">98309</text><text class="b" x="719" y="88.5">99563</text><text class="b" x="959" y="88.5">99581</text>
<text class="c" x="239" y="101.5">25.00%</text><text class="c" x="479" y="101.5">25.00%</text><text class="c" x="719" y="101.5">50.00%</text><text class="c" x="959" y="101.5">50.00%</text>
</g>

<g id="r27" transform="translate(31.5 3871.5)">
<use href="#grid"/>
<text class="m" x="0" y="-7.5">105</text><text class="m" x="240" y="-7.5">106</text><text class="m" x="480" y="-7.5">107</text><text class="m" x="720" y="-7.5">108</text>
<path class="zB" d="M240 45H285M300 45H345"/><path class="zG" d="M450 0H495M540 0H585M600 0H645"/><path class="zR" d="M720 15H765M780 15H825"/><path class="zY" d="M930 30H960"/>
<use href="#B" x="240"/><use href="#B" x="300"/><use href="#B" x="360"/><use href="#B" x="390"/><use href="#B" x="420"/>
<use href="#G" x="450"/><use href="#G" x="510"/><use href="#G" x="540"/><use href="#G" x="600"/><use href="#G" x="660"/><use href="#Y" x="690"/>
<use href="#R" x="720"/><use href="#R" x="780"/><use href="#R" x="840"/><use href="#G" x="870"/><use href="#R" x="900"/><use href="#Y" x="930"/>
<text class="a" x="239" y="75">0</text><text class="a" x="479" y="75">174</text><text class="a" x="719" y="75">146</text><text class="a" x="959" y="75">174</text>
<text class="b" x="239" y="88.5">99581</text><text class="b" x="479" y="88.5">100625</text><text class="b" x="719" y="88.5">101501</text><text class="b" x="959" y="88.5">102545</text>
<text class="c" x="239" y="101.5">50.00%</text><text class="c" x="479" y="101.5">50.00%</text><text class="c" x="719" y="101.5">50.00%</text><text class="c" x="959" y="101.5">50.00%</text>
</g>

<g id="r28" transform="translate(31.5 4012.5)">
<use href="#grid"/>
<text class="m" x="0" y="-7.5">109</text><text class="m" x="240" y="-7.5">110</text><text class="m" x="480" y="-7.5">111</text><text class="m" x="720" y="-7.5">112</text>
<path class="zY" d="M0 30H15M930 30H960"/><path class="zB" d="M240 45H285M300 45H345"/><path class="zG" d="M450 0H495M540 0H615M630 0H675"/><path class="zR" d="M720 15H765M780 15H825"/>
<use href="#Y" x="30"/><use href="#Y" x="60"/><use href="#B" x="90"/><use href="#Y" x="120"/><use href="#B" x="150"/><use href="#O" x="180"/><use href="#Y" x="210"/>
<use href="#B" x="240"/><use href="#B" x="300"/><use href="#R" x="360"/><use href="#Y" x="390"/><use href="#O" x="420"/>
<use href="#G" x="450"/><use href="#G" x="510"/><use href="#G" x="540"/><use href="#G" x="630"/><use href="#Y" x="690"/>
<use href="#R" x="720"/><use href="#R" x="780"/><use href="#R" x="840"/><use href="#G" x="870"/><use href="#R" x="900"/><use href="#Y" x="930"/>
<text class="a" x="239" y="75">178</text><text class="a" x="479" y="75">174</text><text class="a" x="719" y="75">127</text><text class="a" x="959" y="75">174</text>
<text class="b" x="239" y="88.5">103613</text><text class="b" x="479" y="88.5">104657</text><text class="b" x="719" y="88.5">105419</text><text class="b" x="959" y="88.5">106463</text>
<text class="c" x="239" y="101.5">50.00%</text><text class="c" x="479" y="101.5">50.00%</text><text class="c" x="719" y="101.5">50.00%</text><text class="c" x="959" y="101.5">50.00%</text>
</g>

<g id="r29" transform="translate(31.5 4153.5)">
<use href="#grid"/>
<text class="m" x="0" y="-7.5">113</text><text class="m" x="240" y="-7.5">114</text><text class="m" x="480" y="-7.5">115</text><text class="m" x="720" y="-7.5">116</text>
<path class="zY" d="M0 30H15M930 30H960"/><path class="zB" d="M240 45H285M300 45H345"/><path class="zG" d="M450 0H495"/><path class="zO" d="M540 60H585"/><path class="zR" d="M720 15H765M780 15H825"/>
<use href="#Y" x="30"/><use href="#Y" x="60"/><use href="#Y" x="90"/><use href="#O" x="120"/>
<use href="#B" x="240"/><use href="#B" x="300"/><use href="#G" x="360"/><use href="#Y" x="390"/><use href="#O" x="420"/>
<use href="#G" x="450"/><use href="#G" x="510"/><use href="#O" x="540"/><use href="#G" x="600"/><use href="#O" x="630"/><use href="#B" x="660"/><use href="#Y" x="690"/>
<use href="#R" x="720"/><use href="#R" x="780"/><use href="#R" x="840"/><use href="#G" x="870"/><use href="#R" x="900"/><use href="#Y" x="930"/>
<rect class="pk" x="600" width="12.5" height="60"/><rect class="bl" x="612.5" width="347.5" height="60"/>
<text class="a" x="239" y="75">103</text><text class="a" x="479" y="75">174</text><text class="a" x="719" y="75">162</text><text class="a" x="959" y="75">174</text>
<text class="b" x="239" y="88.5">107081</text><text class="b" x="479" y="88.5">108125</text><text class="b" x="719" y="88.5">109697</text><text class="b" x="959" y="88.5">111785</text>
<text class="c" x="239" y="101.5">50.00%</text><text class="c" x="479" y="101.5">50.00%</text><text class="c" x="719" y="101.5">44.46%</text><text class="c" x="959" y="101.5">31.96%</text>
</g>

<g id="r30" transform="translate(31.5 4294.5)">
<use href="#grid"/>
<text class="m" x="0" y="-7.5">117</text><text class="m" x="240" y="-7.5">118</text><text class="m" x="480" y="-7.5">119</text><text class="m" x="720" y="-7.5">120</text>
<path class="zY" d="M0 30H15M930 30H960"/><path class="zO" d="M120 60H225"/><path class="zB" d="M240 45H285M300 45H345"/><path class="zG" d="M450 0H495"/>
<use href="#Y" x="30"/><use href="#Y" x="60"/><use href="#B" x="90"/><use href="#O" x="120"/>
<use href="#B" x="240"/><use href="#B" x="300"/><use href="#G" x="360"/><use href="#Y" x="390"/><use href="#O" x="420"/>
<use href="#G" x="450"/><use href="#G" x="510"/><use href="#G" x="540"/><use href="#G" x="570"/><use href="#G" x="600"/><use href="#G" x="630"/><use href="#G" x="660"/><use href="#Y" x="690"/>
<use href="#R" x="720"/><use href="#R" x="750"/><use href="#R" x="780"/><use href="#R" x="810"/><use href="#R" x="840"/><use href="#G" x="870"/><use href="#R" x="900"/><use href="#Y" x="930"/>
<rect class="bl" width="960" height="60"/>
<text class="a" x="239" y="75">124</text><text class="a" x="479" y="75">174</text><text class="a" x="719" y="75">178</text><text class="a" x="959" y="75">206</text>
<text class="b" x="239" y="88.5">113273</text><text class="b" x="479" y="88.5">115361</text><text class="b" x="719" y="88.5">117647</text><text class="b" x="959" y="88.5">119969</text>
<text class="c" x="239" y="101.5">19.46%</text><text class="c" x="479" y="101.5">6.96%</text><text class="c" x="719" y="101.5">0.00%</text><text class="c" x="959" y="101.5">0.00%</text>
</g>

<g id="r31" transform="translate(31.5 4435.5)">
<use href="#grid"/>
<text class="m" x="0" y="-7.5">121</text><text class="m" x="240" y="-7.5">122</text><text class="m" x="480" y="-7.5">123</text><text class="m" x="720" y="-7.5">124</text>
<path class="zY" d="M0 30H15"/><path class="zG" d="M240 0H960"/>
<use href="#Y" x="30"/><use href="#Y" x="60"/><use href="#R" x="90"/><use href="#R" x="105"/><use href="#B" x="120"/><use href="#O" x="150"/><use href="#B" x="180"/><use href="#Y" x="210"/><use href="#G" x="240"/>
<rect class="bl" width="134" height="60"/><rect class="pk" x="134" width="15" height="60"/>
<text class="a" x="239" y="75">203</text><text class="a" x="479" y="75">73</text><text class="a" x="719" y="75">48</text><text class="a" x="959" y="75">48</text>
<text class="b" x="239" y="88.5">122105</text><text class="b" x="479" y="88.5">122543</text><text class="b" x="719" y="88.5">122831</text><text class="b" x="959" y="88.5">123119</text>
<text class="c" x="239" y="101.5">0.00%</text><text class="c" x="479" y="101.5">0.00%</text><text class="c" x="719" y="101.5">0.00%</text><text class="c" x="959" y="101.5">0.00%</text>
</g>

<g id="r32" transform="translate(31.5 4576.5)">
<use href="#grid2"/>
<text class="m" x="0" y="-7.5">125</text><text class="m" x="240" y="-7.5">126</text>
<path class="zG" d="M0 0H420"/>
<text class="a" x="239" y="75">48</text><text class="a" x="479" y="75">36</text>
<text class="b" x="239" y="88.5">123407</text><text class="b" x="479" y="88.5">123623</text>
<text class="c" x="239" y="101.5">0.00%</text><text class="c" x="479" y="101.5">0.00%</text>
</g>
</g>
</svg>
